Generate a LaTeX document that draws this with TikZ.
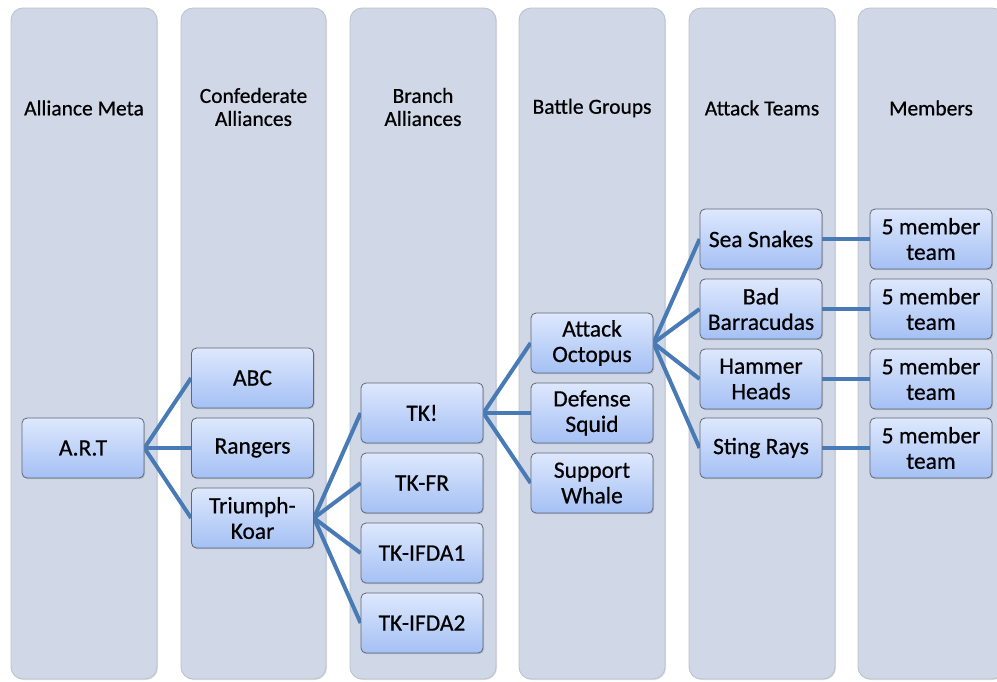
\documentclass[tikz,border=0pt]{standalone}
\usepackage{fontspec}
\setmainfont{Carlito}[FakeBold=0.5]
\newfontfamily\itemfont{Carlito}[FakeBold=0.6]
\usetikzlibrary{shadows}
\definecolor{colfill}{RGB}{208,215,230}
\definecolor{colborder}{RGB}{186,192,204}
\definecolor{nodeborder}{RGB}{96,104,118}
\definecolor{ntop}{RGB}{222,232,253}
\definecolor{nbot}{RGB}{164,192,244}
\definecolor{linkcol}{RGB}{72,122,182}
\pgfdeclarelayer{cols}
\pgfdeclarelayer{links}
\pgfsetlayers{cols,links,main}
\begin{document}
\begin{tikzpicture}[x=1pt,y=-1pt,
  colbox/.style={draw=colborder, fill=colfill, rounded corners=12pt, line width=0.8pt,
    drop shadow={shadow xshift=1pt, shadow yshift=-1pt, opacity=0.25}},
  head/.style={font=\itemfont\fontsize{21.5}{23}\selectfont, align=center, text=black},
  item/.style={draw=nodeborder, line width=0.8pt, rounded corners=5pt,
    top color=ntop, bottom color=nbot, minimum width=122pt, minimum height=60pt,
    align=center, inner sep=1pt, font=\itemfont\fontsize{23.5}{25.5}\selectfont, text=black,
    drop shadow={shadow xshift=1pt, shadow yshift=-1.2pt, opacity=0.35}},
  link/.style={draw=linkcol, line width=4pt}]
\useasboundingbox (0,0) rectangle (997,681);

% column backgrounds
\begin{pgfonlayer}{cols}
\path[colbox] (11,8) rectangle (157,679);
\path[colbox] (181,8) rectangle (326,679);
\path[colbox] (350,8) rectangle (496,679);
\path[colbox] (519,8) rectangle (665,679);
\path[colbox] (689,8) rectangle (835,679);
\path[colbox] (858,8) rectangle (1004,679);
\end{pgfonlayer}

% headers
\node[head] (h1) at (84,108) {Alliance Meta};
\node[head] (h2) at (253.5,107) {Confederate\\Alliances};
\node[head] (h3) at (423,107) {Branch\\Alliances};
\node[head] (h4) at (592,108) {Battle Groups};
\node[head] (h5) at (762,108) {Attack Teams};
\node[head] (h6) at (931,108) {Members};

% nodes
\node[item] (art) at (83,448) {A.R.T};
\node[item] (abc) at (252.5,378) {ABC};
\node[item] (rng) at (252.5,448) {Rangers};
\node[item] (tri) at (252.5,518) {Triumph-\\Koar};
\node[item] (tk) at (422,413) {TK!};
\node[item] (tkfr) at (422,483) {TK-FR};
\node[item] (tki1) at (422,553) {TK-IFDA1};
\node[item] (tki2) at (422,623) {TK-IFDA2};
\node[item] (ao) at (592,343) {Attack\\Octopus};
\node[item] (ds) at (592,413) {Defense\\Squid};
\node[item] (sw) at (592,483) {Support\\Whale};
\node[item] (ss) at (761,239) {Sea Snakes};
\node[item] (bb) at (761,309) {Bad\\Barracudas};
\node[item] (hh) at (761,379) {Hammer\\Heads};
\node[item] (sr) at (761,448) {Sting Rays};
\node[item] (m1) at (931,239) {5 member\\team};
\node[item] (m2) at (931,309) {5 member\\team};
\node[item] (m3) at (931,379) {5 member\\team};
\node[item] (m4) at (931,448) {5 member\\team};

% links
\begin{pgfonlayer}{links}
\foreach \c in {abc,rng,tri} \draw[link] (art.east) -- (\c.west);
\foreach \c in {tk,tkfr,tki1,tki2} \draw[link] (tri.east) -- (\c.west);
\foreach \c in {ao,ds,sw} \draw[link] (tk.east) -- (\c.west);
\foreach \c in {ss,bb,hh,sr} \draw[link] (ao.east) -- (\c.west);
\draw[link] (ss.east) -- (m1.west);
\draw[link] (bb.east) -- (m2.west);
\draw[link] (hh.east) -- (m3.west);
\draw[link] (sr.east) -- (m4.west);
\end{pgfonlayer}
\end{tikzpicture}
\end{document}
